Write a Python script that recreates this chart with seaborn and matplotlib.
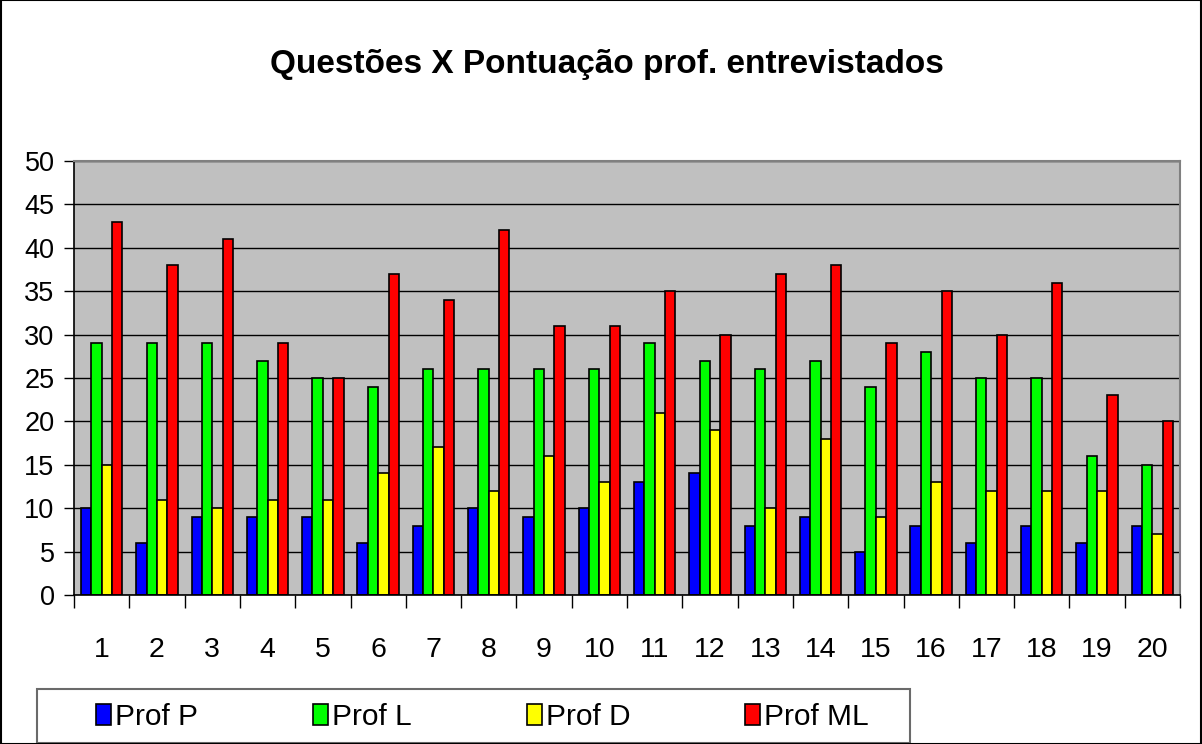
import matplotlib
matplotlib.use("Agg")
import matplotlib.pyplot as plt
import matplotlib.patches as mpatches
import numpy as np
import pandas as pd
import seaborn as sns

questoes = [str(i) for i in range(1, 21)]
prof_p = [10, 6, 9, 9, 9, 6, 8, 10, 9, 10, 13, 14, 8, 9, 5, 8, 6, 8, 6, 8]
prof_l = [29, 29, 29, 27, 25, 24, 26, 26, 26, 26, 29, 27, 26, 27, 24, 28, 25, 25, 16, 15]
prof_d = [15, 11, 10, 11, 11, 14, 17, 12, 16, 13, 21, 19, 10, 18, 9, 13, 12, 12, 12, 7]
prof_ml = [43, 38, 41, 29, 25, 37, 34, 42, 31, 31, 35, 30, 37, 38, 29, 35, 30, 36, 23, 20]
series_names = ["Prof P", "Prof L", "Prof D", "Prof ML"]
colors = ["#0000FF", "#00FF00", "#FFFF00", "#FF0000"]
yticks = list(range(0, 51, 5))

rows = []
for name, vals in zip(series_names, [prof_p, prof_l, prof_d, prof_ml]):
    for q, v in zip(questoes, vals):
        rows.append({"Questão": q, "Pontuação": v, "Professor": name})
df = pd.DataFrame(rows)

sns.set_style("white")
plt.rcParams["font.family"] = ["Liberation Sans", "DejaVu Sans"]
plt.rcParams["text.color"] = "black"
plt.rcParams["xtick.color"] = "black"
plt.rcParams["ytick.color"] = "black"

W, H = 1202, 744
fig = plt.figure(figsize=(W / 100, H / 100), dpi=100)
ax = fig.add_axes([74 / W, 1 - 595 / H, (1180 - 74) / W, (595 - 161) / H])
ax.set_facecolor("#C0C0C0")

sns.barplot(data=df, x="Questão", y="Pontuação", hue="Professor",
            order=questoes, hue_order=series_names, palette=colors,
            width=0.75, edgecolor="black", linewidth=1.2, saturation=1,
            ax=ax, legend=True)

ax.set_ylim(0, 50)
ax.set_xlim(-0.5, len(questoes) - 0.5)
ax.set_yticks(yticks)
ax.set_yticklabels([str(t) for t in yticks], fontsize=19.5)
ax.yaxis.grid(True, color="black", linewidth=1)
ax.set_axisbelow(True)
ax.set_xlabel("")
ax.set_ylabel("")
ax.tick_params(axis="y", direction="out", length=7, width=1, color="black", pad=7, left=True)
ax.tick_params(axis="x", which="major", length=0, pad=30, labelsize=20.5)
ax.set_xticks(np.arange(-0.5, len(questoes), 1.0), minor=True)
ax.tick_params(axis="x", which="minor", direction="out", length=9, width=1, color="black", bottom=True)

for side in ["left", "bottom"]:
    ax.spines[side].set_color("black")
    ax.spines[side].set_linewidth(1.2)
for side in ["top", "right"]:
    ax.spines[side].set_color("#808080")
    ax.spines[side].set_linewidth(1.5)

handles, labels = ax.get_legend_handles_labels()
ax.get_legend().remove()

# legend frame
fig.patches.append(mpatches.Rectangle((37 / W, 1 - 743 / H), (910 - 37) / W, (743 - 689) / H,
                                      transform=fig.transFigure, fill=False,
                                      edgecolor="#6a6a6a", linewidth=1.5))
entry_x = [96, 313, 527, 745]
for h, lab, ex in zip(handles, labels, entry_x):
    lg = fig.legend([h], [lab], loc="center left", bbox_to_anchor=(ex / W, 1 - 717 / H),
                    frameon=False, fontsize=21.5, handlelength=0.5, handleheight=0.7,
                    handletextpad=0.15, borderpad=0, borderaxespad=0)

fig.text(607 / W, 1 - 65 / H, "Questões X Pontuação prof. entrevistados",
         ha="center", va="center", fontsize=24, fontweight="bold")

fig.patches.append(mpatches.Rectangle((0.0005, 0.0005), 0.999, 0.999, transform=fig.transFigure,
                                      fill=False, edgecolor="black", linewidth=1.5))

fig.savefig("out.png", dpi=100)
